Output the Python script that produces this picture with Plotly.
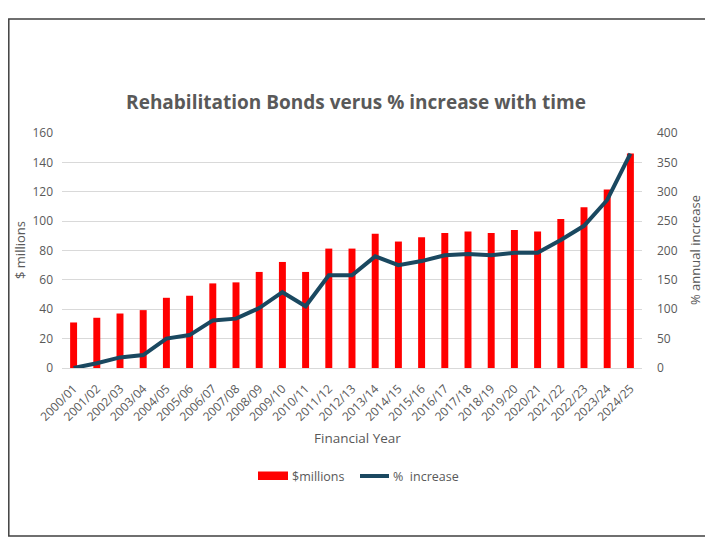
import plotly.graph_objects as go

years = ["2000/01","2001/02","2002/03","2003/04","2004/05","2005/06","2006/07","2007/08",
         "2008/09","2009/10","2010/11","2011/12","2012/13","2013/14","2014/15","2015/16",
         "2016/17","2017/18","2018/19","2019/20","2020/21","2021/22","2022/23","2023/24","2024/25"]
millions = [31.0, 34.2, 37.1, 39.4, 47.8, 49.2, 57.6, 58.3, 65.4, 72.2, 65.4, 81.3, 81.3,
            91.4, 86.1, 89.1, 92.0, 93.0, 92.0, 93.9, 93.0, 101.4, 109.5, 121.6, 146.0]
pct_increase = [0, 8, 18, 22, 50, 56, 81, 84, 102, 129, 105, 158, 158,
                190, 175, 182, 192, 194, 192, 196, 196, 218, 242, 286, 365]

GRAY = "#595959"
FONT = "Open Sans"
RED = "#FF0000"
NAVY = "#1A4860"

# page body has an 8px margin, so figure is laid out in page-coordinates minus 8
OFF = 8
W, H = 713 - OFF, 547 - OFF
L, R, T, B = 62 - OFF, W - (642 - OFF), 133 - OFF, H - (368 - OFF)
pw = W - L - R
ph = H - T - B


def px_x(x):
    return (x - OFF - L) / pw


def px_y(y):
    return (H - B - (y - OFF)) / ph


fig = go.Figure()
fig.add_trace(go.Bar(x=years, y=millions, name="$millions", marker_color=RED,
                     marker_line_width=0, yaxis="y", showlegend=False))
fig.add_trace(go.Scatter(x=years, y=pct_increase, name="% increase", mode="lines",
                         line=dict(color=NAVY, width=4), yaxis="y2", showlegend=False))

fig.update_layout(
    width=W, height=H,
    margin=dict(l=L, r=R, t=T, b=B, autoexpand=False),
    paper_bgcolor="white", plot_bgcolor="white",
    font=dict(family=FONT, color=GRAY, size=12),
    bargap=0.7,
    title=dict(text="<b>Rehabilitation Bonds verus % increase with time</b>",
               x=(356 - OFF) / W, xanchor="center", y=1 - (102 - OFF) / H, yanchor="middle",
               font=dict(size=19, color=GRAY, family=FONT)),
    xaxis=dict(type="category", tickangle=-45, tickfont=dict(size=12, color=GRAY),
               showgrid=False, showline=True, linecolor="#D9D9D9", ticks="",
               ticklabelstandoff=8, range=[-0.5, len(years) - 0.5]),
    yaxis=dict(range=[0, 160], dtick=20, showgrid=True, gridcolor="#D9D9D9",
               zeroline=False, ticks="", tickfont=dict(size=12, color=GRAY),
               ticklabelstandoff=8),
    yaxis2=dict(range=[0, 400], dtick=50, overlaying="y", side="right", showgrid=False,
                zeroline=False, ticks="", tickfont=dict(size=12, color=GRAY),
                ticklabelstandoff=14),
    shapes=[
        dict(type="rect", xref="paper", yref="paper",
             x0=px_x(OFF + 0.8), x1=px_x(708), y0=px_y(536), y1=px_y(19),
             line=dict(color="#404040", width=1.5), layer="below"),
        # legend: bar swatch
        dict(type="rect", xref="paper", yref="paper",
             x0=px_x(258), x1=px_x(288), y0=px_y(480), y1=px_y(471.5),
             fillcolor=RED, line=dict(width=0)),
        # legend: line swatch
        dict(type="line", xref="paper", yref="paper",
             x0=px_x(360), x1=px_x(389), y0=px_y(476), y1=px_y(476),
             line=dict(color=NAVY, width=4)),
    ],
    annotations=[
        dict(text="Financial Year", xref="paper", yref="paper", x=px_x(357), y=px_y(437.5),
             xanchor="center", yanchor="middle", showarrow=False,
             font=dict(size=13.5, color=GRAY)),
        dict(text="$ millions", xref="paper", yref="paper", x=px_x(20), y=px_y(250),
             xanchor="center", yanchor="middle", textangle=-90, showarrow=False,
             font=dict(size=13, color=GRAY)),
        dict(text="% annual increase", xref="paper", yref="paper", x=px_x(695), y=px_y(250),
             xanchor="center", yanchor="middle", textangle=-90, showarrow=False,
             font=dict(size=13, color=GRAY)),
        dict(text="$millions", xref="paper", yref="paper", x=px_x(290), y=px_y(476),
             xanchor="left", yanchor="middle", showarrow=False,
             font=dict(size=12.5, color=GRAY)),
        dict(text="%&nbsp;&nbsp;increase", xref="paper", yref="paper", x=px_x(391), y=px_y(476),
             xanchor="left", yanchor="middle", showarrow=False,
             font=dict(size=12.5, color=GRAY)),
    ],
)

fig.write_html("out.html")
